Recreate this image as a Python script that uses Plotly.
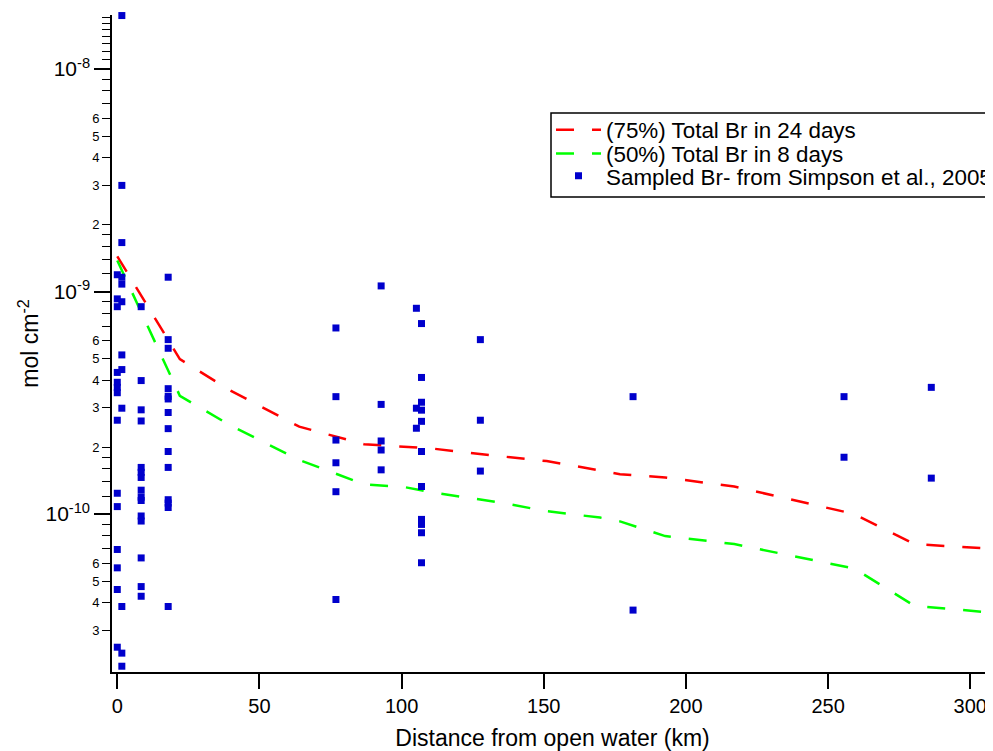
import plotly.graph_objects as go

# ---- model curves (distance in km, column amount in mol cm^-2) ----
model_km = [0, 22.0, 39.6, 64.0, 86.8, 101.2, 110.7, 134.6, 151.0, 169.8, 176.8, 192.7, 217.0, 259.2, 280.3, 310]
br_75pct_24d = [1.44e-9, 4.97e-10, 3.60e-10, 2.47e-10, 2.06e-10, 2.00e-10, 1.97e-10, 1.82e-10, 1.73e-10, 1.57e-10,
                1.51e-10, 1.46e-10, 1.33e-10, 1.00e-10, 7.33e-11, 6.95e-11]
br_50pct_8d = [1.38e-9, 3.40e-10, 2.51e-10, 1.75e-10, 1.36e-10, 1.32e-10, 1.25e-10, 1.127e-10, 1.03e-10, 9.64e-11,
               9.27e-11, 7.96e-11, 7.33e-11, 5.69e-11, 3.87e-11, 3.58e-11]

# ---- sampled Br- (Simpson et al., 2005) ----
sample_km = (
    [0] * 14 + [1.6] * 12 + [8.4] * 15 + [17.9] * 14 + [76.9] * 6 + [92.8] * 5
    + [105.2] * 3 + [107.0] * 11 + [127.7] * 3 + [181.4] * 2 + [255.6] * 2 + [286.3] * 2
)
sample_br = [
    # 0 km
    1.19e-9, 9.27e-10, 8.55e-10, 4.33e-10, 3.91e-10, 3.71e-10, 3.51e-10, 2.64e-10,
    1.24e-10, 1.08e-10, 6.93e-11, 5.73e-11, 4.58e-11, 2.52e-11,
    # 1.6 km
    1.74e-8, 3.0e-9, 1.66e-9, 1.16e-9, 1.08e-9, 9.0e-10, 5.19e-10, 4.46e-10, 2.99e-10,
    3.84e-11, 2.37e-11, 2.07e-11,
    # 8.4 km
    8.55e-10, 3.98e-10, 2.94e-10, 2.62e-10, 1.62e-10, 1.54e-10, 1.46e-10, 1.28e-10,
    1.19e-10, 1.15e-10, 9.8e-11, 9.3e-11, 6.35e-11, 4.72e-11, 4.27e-11,
    # 17.9 km
    1.16e-9, 6.08e-10, 5.56e-10, 3.66e-10, 3.38e-10, 3.29e-10, 2.86e-10, 2.42e-10,
    1.91e-10, 1.62e-10, 1.16e-10, 1.12e-10, 1.07e-10, 3.84e-11,
    # 76.9 km
    6.86e-10, 3.37e-10, 2.15e-10, 1.70e-10, 1.26e-10, 4.13e-11,
    # 92.8 km
    1.06e-9, 3.11e-10, 2.13e-10, 1.94e-10, 1.58e-10,
    # 105.2 km
    8.41e-10, 2.99e-10, 2.43e-10,
    # 107.0 km
    7.18e-10, 4.11e-10, 3.18e-10, 2.93e-10, 2.61e-10, 1.91e-10, 1.33e-10, 9.46e-11,
    8.98e-11, 8.24e-11, 6.04e-11,
    # 127.7 km
    6.08e-10, 2.64e-10, 1.56e-10,
    # 181.4 km
    3.37e-10, 3.7e-11,
    # 255.6 km
    3.37e-10, 1.80e-10,
    # 286.3 km
    3.71e-10, 1.45e-10,
]

# ---- axis ticks ----
x_ticks = [0, 50, 100, 150, 200, 250, 300]
y_decades = [1e-10, 1e-9, 1e-8]
y_decade_labels = ["10<sup>-10</sup>", "10<sup>-9</sup>", "10<sup>-8</sup>"]
y_labeled_minor = [3e-11, 4e-11, 5e-11, 6e-11,
                   2e-10, 3e-10, 4e-10, 5e-10, 6e-10,
                   2e-9, 3e-9, 4e-9, 5e-9, 6e-9]
y_labeled_minor_text = ["3", "4", "5", "6", "2", "3", "4", "5", "6", "2", "3", "4", "5", "6"]
y_unlabeled_minor = [7e-11, 8e-11, 9e-11,
                     1.2e-10, 1.4e-10, 1.6e-10, 1.8e-10, 7e-10, 8e-10, 9e-10,
                     1.2e-9, 1.4e-9, 1.6e-9, 1.8e-9, 7e-9, 8e-9, 9e-9,
                     1.1e-8, 1.2e-8, 1.3e-8, 1.4e-8, 1.5e-8, 1.6e-8, 1.7e-8]

FONT = "Liberation Sans, Arial, Helvetica, sans-serif"
Y_RANGE = [-10.71, -7.757]
LEG_X = 0.4983
LEG_ROWS = [0.8247, 0.7884, 0.7545]

fig = go.Figure()
fig.add_trace(go.Scatter(
    x=model_km, y=br_75pct_24d, mode="lines", name="(75%) Total Br in 24 days",
    line=dict(color="#FF0000", width=2.5, dash="18px,18px"), legend="legend",
))
fig.add_trace(go.Scatter(
    x=model_km, y=br_50pct_8d, mode="lines", name="(50%) Total Br in 8 days",
    line=dict(color="#00FF00", width=2.5, dash="18px,18px"), legend="legend2",
))
fig.add_trace(go.Scatter(
    x=sample_km, y=sample_br, mode="markers", name="Sampled Br- from Simpson et al., 2005",
    marker=dict(symbol="square", size=7, color="#0000CC", line=dict(width=0)),
    yaxis="y2", cliponaxis=False, legend="legend3",
))


def leg(yrow):
    return dict(
        x=LEG_X, y=yrow, xanchor="left", yanchor="middle",
        borderwidth=0, bgcolor="rgba(0,0,0,0)",
        font=dict(size=22.4, family=FONT, color="black"), itemwidth=45,
    )


# the page body has an 8px margin, so the figure is placed at (8,8)
fig.update_layout(
    width=985, height=743, autosize=False,
    margin=dict(l=104, r=0, t=7, b=79, autoexpand=False),
    paper_bgcolor="white", plot_bgcolor="white",
    font=dict(family=FONT, color="black"),
    showlegend=True,
    legend=leg(LEG_ROWS[0]), legend2=leg(LEG_ROWS[1]), legend3=leg(LEG_ROWS[2]),
    shapes=[dict(type="rect", xref="paper", yref="paper",
                 x0=LEG_X, x1=1.05, y0=0.7230, y1=0.8508,
                 line=dict(color="black", width=1.5), fillcolor="white", layer="above")],
    xaxis=dict(
        range=[-1.86, 308.0], tickvals=x_ticks, ticktext=[str(v) for v in x_ticks],
        ticks="outside", ticklen=15, tickwidth=1.5, tickcolor="black",
        showline=True, linewidth=1.5, linecolor="black", automargin=False,
        showgrid=False, zeroline=False, tickfont=dict(size=20),
        title=dict(text="Distance from open water (km)", font=dict(size=23), standoff=15),
    ),
    yaxis=dict(
        type="log", range=Y_RANGE, automargin=False,
        tickvals=y_decades, ticktext=y_decade_labels,
        ticks="outside", ticklen=16, tickwidth=1.5, tickcolor="black",
        showline=True, linewidth=1.5, linecolor="black",
        showgrid=False, zeroline=False, tickfont=dict(size=21),
        minor=dict(tickvals=y_unlabeled_minor, ticks="outside", ticklen=8,
                   tickwidth=1.2, tickcolor="black", showgrid=False),
        title=dict(text="mol cm<sup>-2</sup>", font=dict(size=23), standoff=0),
    ),
    yaxis2=dict(
        type="log", range=Y_RANGE, overlaying="y", side="left", automargin=False,
        tickvals=y_labeled_minor, ticktext=y_labeled_minor_text,
        ticks="outside", ticklen=9, tickwidth=1.2, tickcolor="black",
        showline=False, showgrid=False, zeroline=False, tickfont=dict(size=13),
    ),
)

fig.write_html("out.html")
